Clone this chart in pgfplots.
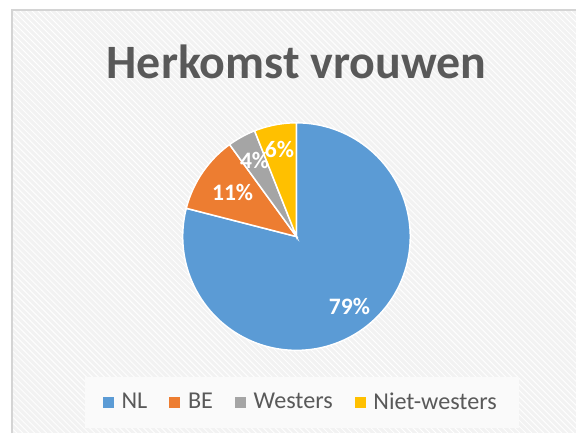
\documentclass[border=0pt]{standalone}
\usepackage{pgfplots}
\pgfplotsset{compat=1.18}
\usepackage{pgfplotstable}
\usepackage{fontspec}
\setmainfont{Carlito}
\usetikzlibrary{patterns}
\definecolor{cNL}{HTML}{5B9BD5}
\definecolor{cBE}{HTML}{ED7D31}
\definecolor{cWE}{HTML}{A5A5A5}
\definecolor{cNW}{HTML}{FFC000}
\definecolor{txtgray}{HTML}{595959}
\definecolor{bgc}{HTML}{F2F2F2}
\definecolor{legbg}{HTML}{FAFAFA}
\definecolor{bordc}{HTML}{D4D4D4}

\pgfplotstableread{
label value
NL 79
BE 11
Westers 4
Niet-westers 6
}\pietable
\pgfplotstablegetelem{0}{value}\of\pietable \let\vNL\pgfplotsretval
\pgfplotstablegetelem{1}{value}\of\pietable \let\vBE\pgfplotsretval
\pgfplotstablegetelem{2}{value}\of\pietable \let\vWE\pgfplotsretval
\pgfplotstablegetelem{3}{value}\of\pietable \let\vNW\pgfplotsretval
\pgfmathsetmacro{\aA}{90}
\pgfmathsetmacro{\aB}{\aA-3.6*\vNL}
\pgfmathsetmacro{\aC}{\aB-3.6*\vBE}
\pgfmathsetmacro{\aD}{\aC-3.6*\vWE}
\pgfmathsetmacro{\aE}{\aD-3.6*\vNW}
\def\cx{297}
\def\cy{197}
\def\R{114}

\begin{document}
\begin{tikzpicture}
\begin{axis}[
  width=288.5pt, height=217pt, scale only axis,
  xmin=0, xmax=577, ymin=0, ymax=434,
  hide axis, clip=false,
  legend columns=4,
  legend style={at={(0.524,0.0714)}, anchor=center, draw=none, fill=legbg,
    font=\fontsize{12.1}{14}\selectfont, text=txtgray,
    inner xsep=9pt, inner ysep=6pt,
    /tikz/every even column/.append style={column sep=9pt}},
  legend image code/.code={\path[#1, draw=none] (0pt,-2.7pt) rectangle (5.4pt,2.7pt); \path (7pt,0pt);},
]
\path (axis cs:0,0) rectangle (axis cs:577,434);
\fill[bgc] (axis cs:12,0) rectangle (axis cs:577,424);
\fill[pattern=north west lines, pattern color=white] (axis cs:12,0) rectangle (axis cs:577,424);
\draw[bordc, line width=1pt] (axis cs:12,0) -- (axis cs:12,424) -- (axis cs:577,424);

\addplot[fill=cNL, draw=white, line width=0.75pt, domain=\aB:\aA, samples=120]
  ({\cx+\R*cos(x)},{\cy+\R*sin(x)}) -- (axis cs:\cx,\cy) -- cycle;
\addplot[fill=cBE, draw=white, line width=0.75pt, domain=\aC:\aB, samples=30]
  ({\cx+\R*cos(x)},{\cy+\R*sin(x)}) -- (axis cs:\cx,\cy) -- cycle;
\addplot[fill=cWE, draw=white, line width=0.75pt, domain=\aD:\aC, samples=15]
  ({\cx+\R*cos(x)},{\cy+\R*sin(x)}) -- (axis cs:\cx,\cy) -- cycle;
\addplot[fill=cNW, draw=white, line width=0.75pt, domain=\aE:\aD, samples=15]
  ({\cx+\R*cos(x)},{\cy+\R*sin(x)}) -- (axis cs:\cx,\cy) -- cycle;
\legend{NL, BE, Westers, Niet-westers}

\node[font=\bfseries\fontsize{24}{28}\selectfont, text=txtgray] at (axis cs:297,372) {Herkomst vrouwen};
\node[font=\bfseries\fontsize{11.8}{14}\selectfont, text=white] at (axis cs:350,127) {79\%};
\node[font=\bfseries\fontsize{11.8}{14}\selectfont, text=white] at (axis cs:233,241) {11\%};
\node[font=\bfseries\fontsize{11.8}{14}\selectfont, text=white] at (axis cs:255,273) {4\%};
\node[font=\bfseries\fontsize{11.8}{14}\selectfont, text=white] at (axis cs:280,284) {6\%};
\end{axis}
\end{tikzpicture}
\end{document}
